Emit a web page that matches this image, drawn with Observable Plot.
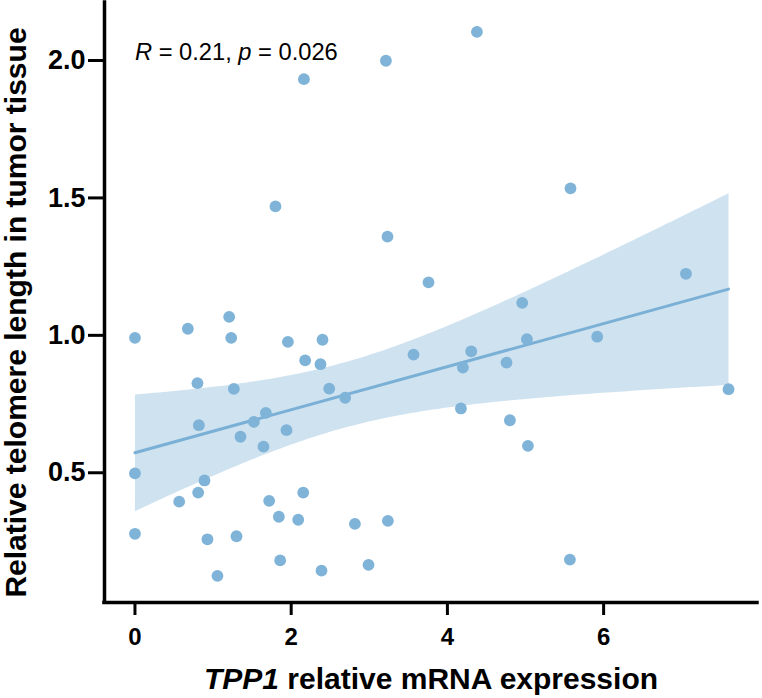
<!DOCTYPE html>
<html><head><meta charset="utf-8">
<script src="https://cdn.jsdelivr.net/npm/d3@7"></script>
<script src="https://cdn.jsdelivr.net/npm/@observablehq/plot@0.6"></script>
<style>body{margin:0;background:#fff}</style>
</head><body><div id="chart"></div>
<script>
const tpp1 = [0.00,0.00,0.00,0.566,0.677,0.800,0.818,0.809,0.890,0.928,1.056,1.206,1.232,1.266,1.300,1.351,1.522,1.676,1.645,1.718,1.799,1.842,1.859,1.958,1.940,2.090,2.163,2.179,2.154,2.401,2.375,2.388,2.487,2.691,2.816,2.990,3.213,3.233,3.238,3.566,3.758,4.173,4.198,4.305,4.378,4.757,4.800,4.958,5.018,5.031,5.576,5.568,5.918,7.054,7.599];
const telomere = [0.991,0.498,0.278,0.395,1.024,0.826,0.673,0.428,0.472,0.258,0.125,1.067,0.991,0.805,0.269,0.631,0.685,0.718,0.595,0.398,1.469,0.340,0.181,0.976,0.655,0.329,1.932,0.909,0.428,0.984,0.895,0.144,0.806,0.773,0.314,0.165,1.999,1.359,0.325,0.930,1.193,0.734,0.883,0.942,2.104,0.901,0.691,1.118,0.986,0.598,1.535,0.184,0.995,1.224,0.804];
const xTicks = [0, 2, 4, 6];
const yTicks = [0.5, 1.0, 1.5, 2.0];
const xTitle = "TPP1 relative mRNA expression";
const yTitle = "Relative telomere length in tumor tissue";
const statLabel = "R = 0.21, p = 0.026";
const statPos = {x: 0, y: 2.0};

const data = tpp1.map((x, i) => ({x, y: telomere[i]}));
const xDomain = [-0.39, 7.97];
const yDomain = [0.028, 2.211];
const font = "'Liberation Sans', Arial, Helvetica, sans-serif";

const chart = Plot.plot({
  width: 762, height: 698,
  marginLeft: 104, marginRight: 5, marginTop: 2, marginBottom: 96,
  style: {fontFamily: font, background: "#fff", color: "#000", overflow: "visible"},
  x: {domain: xDomain},
  y: {domain: yDomain},
  marks: [
    Plot.linearRegressionY(data, {x: "x", y: "y", ci: 0.95, stroke: "#7bb0d6", strokeWidth: 3, fill: "#7fb3d8", fillOpacity: 0.38}),
    Plot.dot(data, {x: "x", y: "y", r: 5.9, fill: "#7fb3d8"}),
    Plot.axisX(xTicks, {tickSize: 13, tickPadding: 12, strokeWidth: 3, fontSize: 24, fontWeight: "bold", label: null, tickFormat: d => String(d)}),
    Plot.axisY(yTicks, {tickSize: 16, tickPadding: 3, strokeWidth: 3, fontSize: 27, fontWeight: "bold", label: null, tickFormat: d3.format(".1f")}),
    Plot.ruleX([xDomain[0]], {strokeWidth: 3.5, strokeLinecap: "square"}),
    Plot.ruleY([yDomain[0]], {strokeWidth: 3.5, strokeLinecap: "square"}),
    Plot.text([statLabel], {x: () => statPos.x, y: () => statPos.y, text: d => d, textAnchor: "start", lineAnchor: "bottom", fontSize: 23.7, fill: "#000"}),
    Plot.text([xTitle], {frameAnchor: "bottom", dy: 86, textAnchor: "middle", lineAnchor: "bottom", text: d => d, fontSize: 30, fontWeight: "bold", fill: "#000"}),
    Plot.text([yTitle], {frameAnchor: "left", dx: -79, dy: 10, rotate: -90, textAnchor: "middle", lineAnchor: "bottom", text: d => d, fontSize: 30, fontWeight: "bold", fill: "#000"})
  ]
});

function styleParts(svg, full, parts) {
  svg.querySelectorAll("text").forEach(t => {
    if (t.textContent === full) {
      t.textContent = "";
      parts.forEach(([s, italic]) => {
        const ts = document.createElementNS("http://www.w3.org/2000/svg", "tspan");
        ts.textContent = s;
        if (italic) ts.setAttribute("font-style", "italic");
        t.appendChild(ts);
      });
    }
  });
}
styleParts(chart, statLabel, [["R", true], [" = 0.21, ", false], ["p", true], [" = 0.026", false]]);
styleParts(chart, xTitle, [["TPP1", true], [" relative mRNA expression", false]]);

document.getElementById("chart").appendChild(chart);
</script>
</body></html>
